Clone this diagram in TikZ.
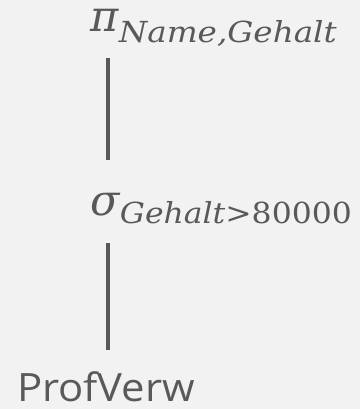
\documentclass[tikz,border=0pt]{standalone}
\usepackage[no-math]{fontspec}
\setmainfont{Open Sans}
\newfontfamily\formulafont{DejaVu Serif}
\usepackage{graphicx}
\definecolor{inkgray}{HTML}{595959}
\definecolor{paper}{HTML}{F2F2F2}
\tikzset{
  label/.style={anchor=base west, inner sep=0pt, outer sep=0pt, text=inkgray},
  link/.style={draw=inkgray, line width=3.5pt},
}
% operator symbol followed by a subscript stretched to a given width
\newcommand{\relop}[4]{%
  {\formulafont\itshape\fontsize{43}{43}\selectfont #1}\hspace{0.5pt}%
  \raisebox{#4}{\resizebox{#3}{\height}{\formulafont\fontsize{29}{29}\selectfont #2}}}
\begin{document}
\begin{tikzpicture}[x=1pt,y=1pt]
  \fill[paper] (0,0) rectangle (360,-409);
  \useasboundingbox (0,0) rectangle (360,-409);

  \node[label] (proj) at (90,-32)
    {\relop{π}{\itshape Name,Gehalt}{218pt}{-11pt}};
  \node[label] (sel) at (90,-215)
    {\relop{σ}{\itshape Gehalt\upshape>80000}{232pt}{-8pt}};
  \node[label] (rel) at (17,-401)
    {\resizebox{178pt}{\height}{\fontsize{39}{39}\selectfont ProfVerw}};

  \coordinate (projfoot) at (108,-58);
  \coordinate (selhead) at (108,-160);
  \coordinate (selfoot) at (108,-243);
  \coordinate (relhead) at (108,-350);
  \draw[link] (projfoot) -- (selhead);
  \draw[link] (selfoot) -- (relhead);
\end{tikzpicture}
\end{document}
